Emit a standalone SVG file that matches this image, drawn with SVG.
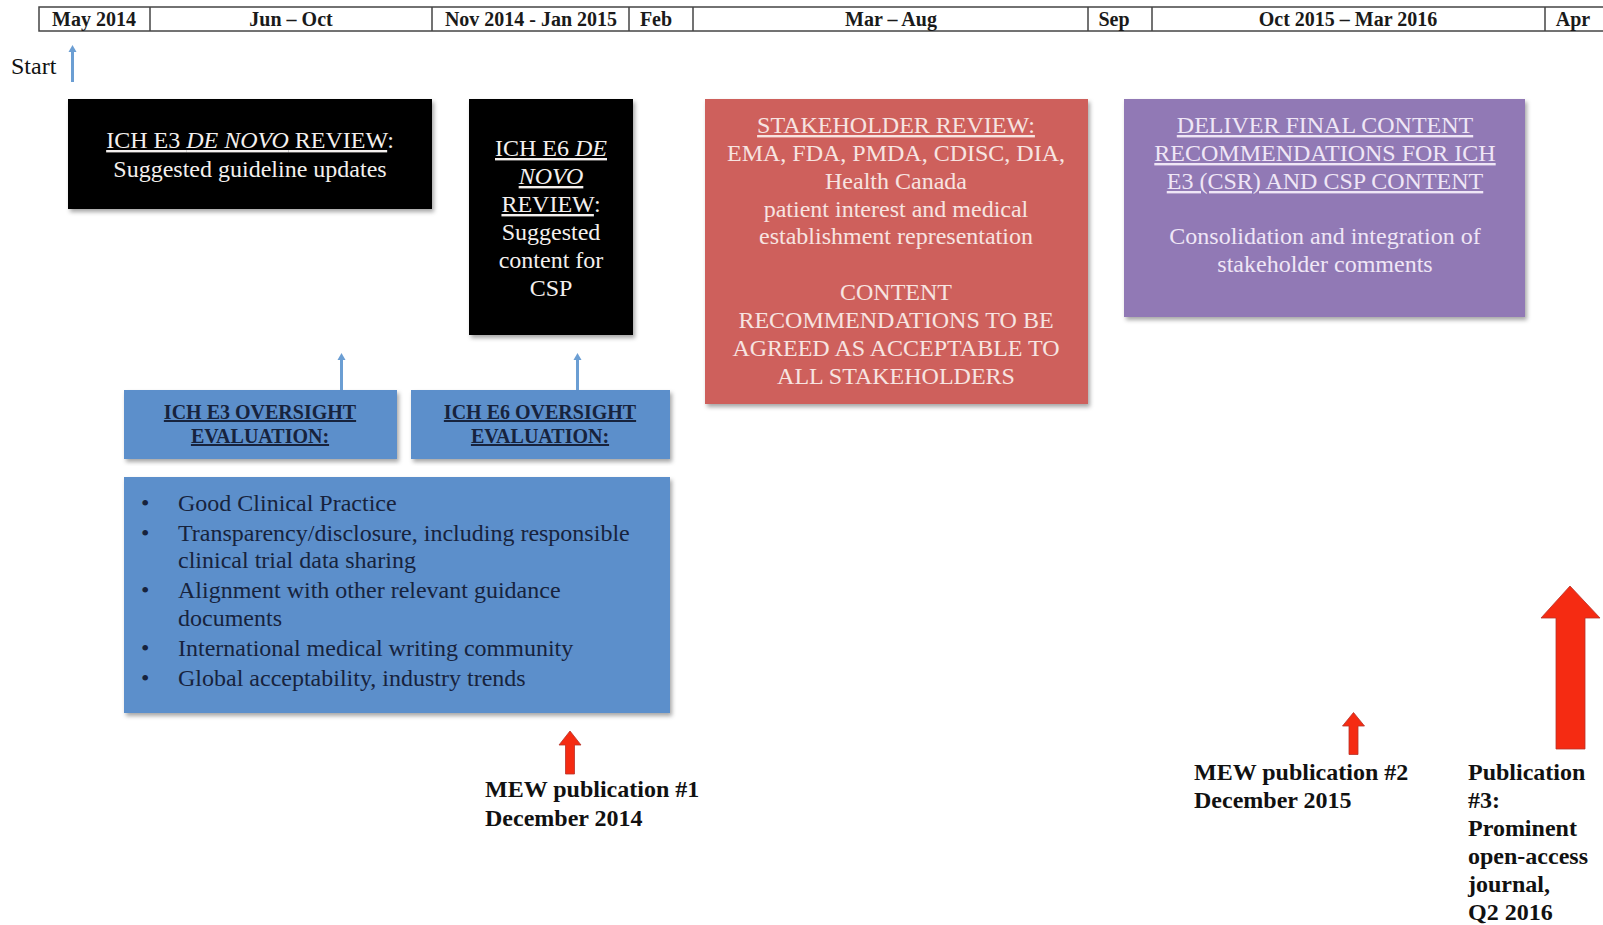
<svg xmlns="http://www.w3.org/2000/svg" width="1603" height="925" viewBox="0 0 1603 925">
<style>
.hdr{font-family:"Liberation Serif",serif;font-weight:bold;font-size:20px;fill:#1a1a1a;text-anchor:middle}
.serif{font-family:"Liberation Serif",serif;font-size:24px}
.wt{fill:#f4f0ee;text-anchor:middle}
.rt{fill:#f7e4e1;text-anchor:middle}
.pt{fill:#efe6f6;text-anchor:middle}
.bt{fill:#17233d}
.ov{font-family:"Liberation Serif",serif;font-weight:bold;font-size:20px;fill:#17233d;text-anchor:middle;text-decoration:underline}
.lbl{font-family:"Liberation Serif",serif;font-weight:bold;font-size:24px;fill:#111}
.u{text-decoration:underline}
.blueline{stroke:#6b9ed3;stroke-width:3;fill:none}
.bluehead{fill:#6b9ed3}
.redarrow{fill:#f52b12;stroke:#b8322a;stroke-width:0.8}
</style>
<defs>
<filter id="sh" x="-5%" y="-5%" width="115%" height="115%">
<feDropShadow dx="2" dy="3" stdDeviation="2" flood-color="#000" flood-opacity="0.35"/>
</filter>
</defs>
<rect width="1603" height="925" fill="#ffffff"/>

<g id="timeline">
<rect x="39" y="7" width="1570" height="24" fill="#fff" stroke="#444" stroke-width="1.5"/>
<g stroke="#444" stroke-width="1.5">
<line x1="150" y1="7" x2="150" y2="31"/>
<line x1="432" y1="7" x2="432" y2="31"/>
<line x1="629" y1="7" x2="629" y2="31"/>
<line x1="693" y1="7" x2="693" y2="31"/>
<line x1="1088" y1="7" x2="1088" y2="31"/>
<line x1="1152" y1="7" x2="1152" y2="31"/>
<line x1="1545" y1="7" x2="1545" y2="31"/>
</g>
<text class="hdr" x="94" y="26">May 2014</text>
<text class="hdr" x="291" y="26">Jun – Oct</text>
<text class="hdr" x="531" y="26">Nov 2014 - Jan 2015</text>
<text class="hdr" x="656" y="26">Feb</text>
<text class="hdr" x="891" y="26">Mar – Aug</text>
<text class="hdr" x="1114" y="26">Sep</text>
<text class="hdr" x="1348" y="26">Oct 2015 – Mar 2016</text>
<text class="hdr" x="1573" y="26">Apr</text>
</g>

<g id="start">
<text class="serif" x="11" y="74" fill="#111">Start</text>
</g>

<g id="e3-denovo">
<rect x="68" y="99" width="364" height="110" fill="#000" filter="url(#sh)"/>
<text class="serif wt" x="250" y="148"><tspan class="u">ICH E3 <tspan font-style="italic">DE NOVO</tspan> REVIEW</tspan>:</text>
<text class="serif wt" x="250" y="177">Suggested guideline updates</text>
</g>

<g id="e6-denovo">
<rect x="469" y="99" width="164" height="236" fill="#000" filter="url(#sh)"/>
<text class="serif wt" x="551" y="156"><tspan class="u">ICH E6 <tspan font-style="italic">DE</tspan></tspan></text>
<text class="serif wt" x="551" y="184" font-style="italic"><tspan class="u">NOVO</tspan></text>
<text class="serif wt" x="551" y="212"><tspan class="u">REVIEW</tspan>:</text>
<text class="serif wt" x="551" y="240">Suggested</text>
<text class="serif wt" x="551" y="268">content for</text>
<text class="serif wt" x="551" y="296">CSP</text>
</g>

<g id="stakeholder">
<rect x="705" y="99" width="383" height="305" fill="#ce605c" filter="url(#sh)"/>
<text class="serif rt u" x="896" y="133">STAKEHOLDER REVIEW:</text>
<text class="serif rt" x="896" y="161">EMA, FDA, PMDA, CDISC, DIA,</text>
<text class="serif rt" x="896" y="189">Health Canada</text>
<text class="serif rt" x="896" y="217">patient interest and medical</text>
<text class="serif rt" x="896" y="244">establishment representation</text>
<text class="serif rt" x="896" y="300">CONTENT</text>
<text class="serif rt" x="896" y="328">RECOMMENDATIONS TO BE</text>
<text class="serif rt" x="896" y="356">AGREED AS ACCEPTABLE TO</text>
<text class="serif rt" x="896" y="384">ALL STAKEHOLDERS</text>
</g>

<g id="deliver">
<rect x="1124" y="99" width="401" height="218" fill="#9179b5" filter="url(#sh)"/>
<text class="serif pt u" x="1325" y="133">DELIVER FINAL CONTENT</text>
<text class="serif pt u" x="1325" y="161">RECOMMENDATIONS FOR ICH</text>
<text class="serif pt u" x="1325" y="189">E3 (CSR) AND CSP CONTENT</text>
<text class="serif pt" x="1325" y="244">Consolidation and integration of</text>
<text class="serif pt" x="1325" y="272">stakeholder comments</text>
</g>

<g id="e3-oversight">
<rect x="124" y="390" width="273" height="69" fill="#5b8fcb" filter="url(#sh)"/>
<text class="ov" x="260" y="419">ICH E3 OVERSIGHT</text>
<text class="ov" x="260" y="443">EVALUATION:</text>
</g>

<g id="e6-oversight">
<rect x="411" y="390" width="259" height="69" fill="#5b8fcb" filter="url(#sh)"/>
<text class="ov" x="540" y="419">ICH E6 OVERSIGHT</text>
<text class="ov" x="540" y="443">EVALUATION:</text>
</g>

<g id="criteria">
<rect x="124" y="477" width="546" height="236" fill="#5b8fcb" filter="url(#sh)"/>
<g class="serif bt">
<text x="141" y="511">•</text>
<text x="178" y="511">Good Clinical Practice</text>
<text x="141" y="541">•</text>
<text x="178" y="541">Transparency/disclosure, including responsible</text>
<text x="178" y="568">clinical trial data sharing</text>
<text x="141" y="598">•</text>
<text x="178" y="598">Alignment with other relevant guidance</text>
<text x="178" y="626">documents</text>
<text x="141" y="656">•</text>
<text x="178" y="656">International medical writing community</text>
<text x="141" y="686">•</text>
<text x="178" y="686">Global acceptability, industry trends</text>
</g>
</g>

<g id="pub1">
<text class="lbl" x="485" y="797">MEW publication #1</text>
<text class="lbl" x="485" y="826">December 2014</text>
</g>

<g id="pub2">
<text class="lbl" x="1194" y="780">MEW publication #2</text>
<text class="lbl" x="1194" y="808">December 2015</text>
</g>

<g id="pub3">
<text class="lbl" x="1468" y="780">Publication</text>
<text class="lbl" x="1468" y="808">#3:</text>
<text class="lbl" x="1468" y="836">Prominent</text>
<text class="lbl" x="1468" y="864">open-access</text>
<text class="lbl" x="1468" y="892">journal,</text>
<text class="lbl" x="1468" y="920">Q2 2016</text>
</g>

<g id="connectors">
<line class="blueline" x1="72.5" y1="82" x2="72.5" y2="51"/>
<polygon class="bluehead" points="68.5,52 72.5,45 76.5,52"/>
<line class="blueline" x1="341.5" y1="390" x2="341.5" y2="359"/>
<polygon class="bluehead" points="337.5,360 341.5,353 345.5,360"/>
<line class="blueline" x1="577.5" y1="390" x2="577.5" y2="359"/>
<polygon class="bluehead" points="573.5,360 577.5,353 581.5,360"/>
<polygon class="redarrow" points="570,731 581,745 574.5,745 574.5,774 565.5,774 565.5,745 559,745"/>
<polygon class="redarrow" points="1353.5,712.5 1364.5,726 1358,726 1358,754.5 1349,754.5 1349,726 1342.5,726"/>
<polygon class="redarrow" points="1570,586 1600,618 1585,618 1585,749 1556,749 1556,618 1541,618"/>
</g>
</svg>
